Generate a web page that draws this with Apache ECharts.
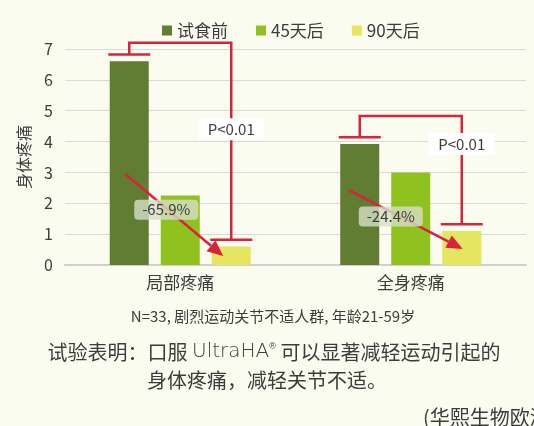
<!DOCTYPE html>
<html><head><meta charset="utf-8">
<script src="https://cdn.jsdelivr.net/npm/echarts@6/dist/echarts.min.js"></script>
<style>html,body{margin:0;padding:0;background:#fafcf0;}#c{width:534px;height:426px;}</style>
</head><body><div id="c"></div>
<script>
// ---- data ----
var categories = ['局部疼痛', '全身疼痛'];
var seriesNames = ['试食前', '45天后', '90天后'];
var before = [6.6, 3.92];
var day45 = [2.25, 3.0];
var day90 = [0.6, 1.1];
var yTicks = [0, 1, 2, 3, 4, 5, 6, 7];
var changeLabels = ['-65.9%', '-24.4%'];
var pLabels = ['P<0.01', 'P<0.01'];
// annotation anchors in value units
var bracketTop = [7.2, 4.83];
var pLabelLevel = [4.4, 3.92];
var arrowStart = [2.95, 2.43];
var arrowEnd = [0.29, 0.52];
var changeLabelLevel = [1.79, 1.57];

var colors = ['#617d31', '#8fc21f', '#e5e55f'];
var red = '#d7233b';
var txt = '#3c3c3c';
var FONT = '"Noto Sans CJK SC", "Noto Sans", sans-serif';

var chart = echarts.init(document.getElementById('c'), null, {renderer: 'canvas'});
var BW = 39, GAP = 12;
var option = {
  backgroundColor: '#fafcf0',
  animation: false,
  textStyle: {fontFamily: FONT},
  legend: {
    left: 157, top: 17, itemWidth: 10, itemHeight: 10, itemGap: 28,
    icon: 'rect',
    textStyle: {fontSize: 17, color: txt, fontFamily: FONT},
    data: seriesNames
  },
  grid: {left: 65, right: 8, top: 49, bottom: 161},
  xAxis: {
    type: 'category', data: categories,
    axisLine: {lineStyle: {color: '#cfcfcf', width: 2}},
    axisTick: {show: false},
    axisLabel: {fontSize: 17, color: txt, margin: 9, fontFamily: FONT}
  },
  yAxis: {
    type: 'value', min: yTicks[0], max: yTicks[yTicks.length - 1], interval: 1,
    name: '身体疼痛', nameLocation: 'middle', nameRotate: 90, nameGap: 33,
    nameTextStyle: {fontSize: 16, color: txt, fontFamily: FONT},
    axisLine: {show: false}, axisTick: {show: false},
    axisLabel: {fontSize: 16, color: txt, margin: 12, fontFamily: FONT},
    splitLine: {lineStyle: {color: '#d9d9d9', width: 1}}
  },
  series: [before, day45, day90].map(function (d, i) {
    return {
      name: seriesNames[i], type: 'bar', data: d, barWidth: BW,
      barGap: (GAP / BW * 100).toFixed(1) + '%',
      itemStyle: {color: colors[i]}
    };
  })
};
chart.setOption(option);

function px(ci, v, si) {
  var p = chart.convertToPixel({gridIndex: 0}, [ci, v]);
  return [p[0] + (si - 1) * (BW + GAP), p[1]];
}

var g = [];
var vals = [before, day45, day90];
for (var ci = 0; ci < categories.length; ci++) {
  var capGap = 0.22;
  var L = px(ci, vals[0][ci] + capGap, 0);
  var R = px(ci, vals[2][ci] + capGap, 2);
  var T = px(ci, bracketTop[ci], 0);
  var ls = {stroke: red, lineWidth: 2.5, fill: null};
  g.push({type: 'polyline', shape: {points: [[L[0], L[1]], [L[0], T[1]], [R[0], T[1]], [R[0], R[1]]]}, style: ls, z: 10});
  g.push({type: 'line', shape: {x1: L[0] - 21, y1: L[1], x2: L[0] + 21, y2: L[1]}, style: ls, z: 10});
  g.push({type: 'line', shape: {x1: R[0] - 21, y1: R[1], x2: R[0] + 21, y2: R[1]}, style: ls, z: 10});
  // P label
  var P = px(ci, pLabelLevel[ci], 2);
  g.push({type: 'rect', shape: {x: R[0] - 33, y: P[1] - 11, width: 66, height: 22}, style: {fill: '#ffffff'}, z: 11});
  g.push({type: 'text', x: R[0], y: P[1], style: {text: pLabels[ci], fontSize: 15, fill: txt, align: 'center', verticalAlign: 'middle', fontFamily: FONT}, z: 12});
  // arrow
  var offS = ci === 0 ? -4 : -11, offE = ci === 0 ? -8 : 1;
  var A = px(ci, arrowStart[ci], 0), B = px(ci, arrowEnd[ci], 2);
  var x1 = A[0] + offS, y1 = A[1], x2 = B[0] + offE, y2 = B[1];
  var ang = Math.atan2(y2 - y1, x2 - x1), hl = 16, hw = 7;
  var bx = x2 - hl * Math.cos(ang), by = y2 - hl * Math.sin(ang);
  g.push({type: 'line', shape: {x1: x1, y1: y1, x2: bx, y2: by}, style: {stroke: red, lineWidth: 2.5}, z: 10});
  g.push({type: 'polygon', shape: {points: [[x2, y2], [bx - hw * Math.sin(ang), by + hw * Math.cos(ang)], [bx + hw * Math.sin(ang), by - hw * Math.cos(ang)]]}, style: {fill: red}, z: 10});
  // change label
  var C = px(ci, changeLabelLevel[ci], 0);
  var cx = ci === 0 ? C[0] + 37 : C[0] + 31;
  g.push({type: 'rect', shape: {x: cx - 32, y: C[1] - 10, width: 64, height: 20, r: 4}, style: {fill: 'rgba(214,222,200,0.8)'}, z: 11});
  g.push({type: 'text', x: cx, y: C[1], style: {text: changeLabels[ci], fontSize: 15, fill: txt, align: 'center', verticalAlign: 'middle', fontFamily: FONT}, z: 12});
}
// footnotes
g.push({type: 'text', x: 273, y: 316, style: {text: 'N=33, 剧烈运动关节不适人群, 年龄21-59岁', fontSize: 15, fill: txt, align: 'center', verticalAlign: 'middle', fontFamily: FONT}});
g.push({type: 'text', x: 274, y: 352, style: {
  text: '试验表明：口服 {u|UltraHA}{s|®} 可以显著减轻运动引起的',
  rich: {u: {fontSize: 20, fontFamily: '"DejaVu Sans", sans-serif', fontWeight: 200, fill: txt}, s: {fontSize: 9, fill: txt, verticalAlign: 'top', padding: [0, 0, 8, 0]}},
  fontSize: 20, fill: txt, align: 'center', verticalAlign: 'middle', fontFamily: FONT}});
g.push({type: 'text', x: 267, y: 380, style: {text: '身体疼痛，减轻关节不适。', fontSize: 20, fill: txt, align: 'center', verticalAlign: 'middle', fontFamily: FONT}});
g.push({type: 'text', x: 423, y: 417, style: {text: '(华熙生物欧洲研究)', fontSize: 20, fill: txt, align: 'left', verticalAlign: 'middle', fontFamily: FONT}});
chart.setOption({graphic: {elements: g}});
</script></body></html>
